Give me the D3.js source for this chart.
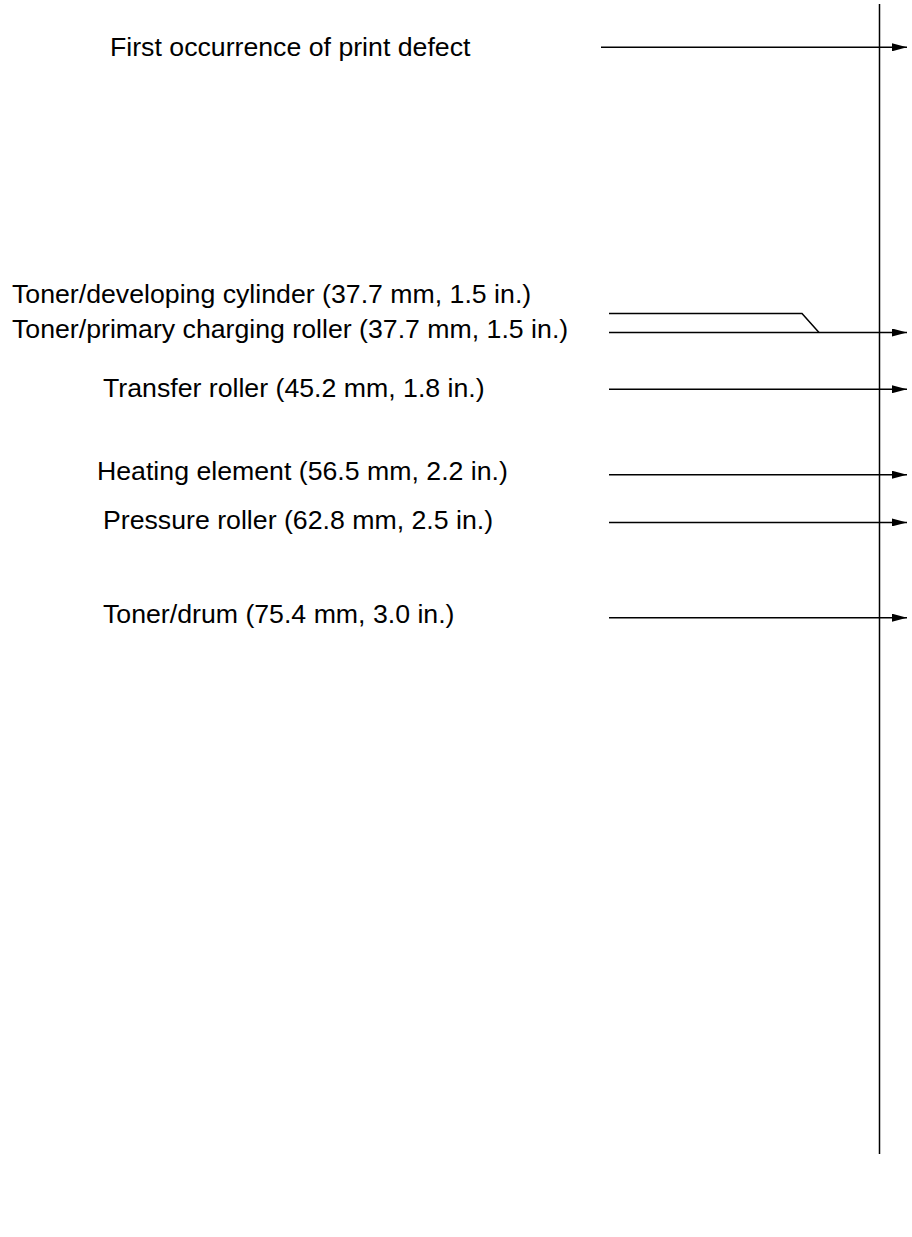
<!DOCTYPE html>
<html>
<head>
<meta charset="utf-8">
<script src="https://cdn.jsdelivr.net/npm/d3@7"></script>
<style>
  html, body { margin: 0; padding: 0; background: #fff; }
  svg { display: block; }
  text { font-family: "Liberation Sans", Arial, sans-serif; font-size: 26.7px; fill: #000; }
</style>
</head>
<body>
<svg id="chart" width="912" height="1237"></svg>
<script>
// Data: repetitive defect ruler (distance from first occurrence, mm / in.)
const firstLabel = "First occurrence of print defect";
const parts = ["Toner/developing cylinder", "Toner/primary charging roller", "Transfer roller", "Heating element", "Pressure roller", "Toner/drum"];
const distancesMM = [37.7, 37.7, 45.2, 56.5, 62.8, 75.4];
const distancesIn = ["1.5", "1.5", "1.8", "2.2", "2.5", "3.0"];
const labels = parts.map((p, i) => `${p} (${distancesMM[i]} mm, ${distancesIn[i]} in.)`);

// Layout
const rulerX = 879.5, rulerTop = 4, rulerBottom = 1154;
const arrowTip = 907;
const lineStart = 609, firstLineStart = 601;
const firstLabelX = 110;
const labelX = [12, 12, 103, 97, 103, 103];
const labelDy = [-11, 5, 8, 5, 7, 5];

const svg = d3.select("#chart");
const y = d3.scaleLinear().domain([0, 75.4]).range([47.3, 617.7]);

svg.append("defs").append("marker")
  .attr("id", "arrow")
  .attr("viewBox", "0 0 15 8")
  .attr("refX", 15).attr("refY", 4)
  .attr("markerWidth", 15).attr("markerHeight", 8)
  .attr("markerUnits", "userSpaceOnUse")
  .attr("orient", "auto")
  .append("path").attr("d", "M0,0 L15,4 L0,8 Z").attr("fill", "#000");

// vertical ruler
svg.append("line")
  .attr("x1", rulerX).attr("x2", rulerX)
  .attr("y1", rulerTop).attr("y2", rulerBottom)
  .attr("stroke", "#000").attr("stroke-width", 1.5);

// first occurrence
svg.append("line")
  .attr("x1", firstLineStart).attr("x2", arrowTip)
  .attr("y1", y(0)).attr("y2", y(0))
  .attr("stroke", "#000").attr("stroke-width", 1.5)
  .attr("marker-end", "url(#arrow)");
svg.append("text")
  .attr("x", firstLabelX).attr("y", y(0) + 9)
  .text(firstLabel);

// component lines
const g = svg.append("g");
distancesMM.forEach((d, i) => {
  const yy = y(d);
  const nextDup = i < distancesMM.length - 1 && distancesMM[i + 1] === d;
  if (nextDup) {
    // offset leader that joins the next line
    const yo = yy - 19;
    g.append("path")
      .attr("d", d3.line()([[lineStart, yo], [802, yo], [819, yy]]))
      .attr("fill", "none").attr("stroke", "#000").attr("stroke-width", 1.5);
  } else {
    g.append("line")
      .attr("x1", lineStart).attr("x2", arrowTip)
      .attr("y1", yy).attr("y2", yy)
      .attr("stroke", "#000").attr("stroke-width", 1.5)
      .attr("marker-end", "url(#arrow)");
  }
  g.append("text")
    .attr("x", labelX[i])
    .attr("y", (nextDup ? yy - 19 : yy) + labelDy[i])
    .text(labels[i]);
});
</script>
</body>
</html>
